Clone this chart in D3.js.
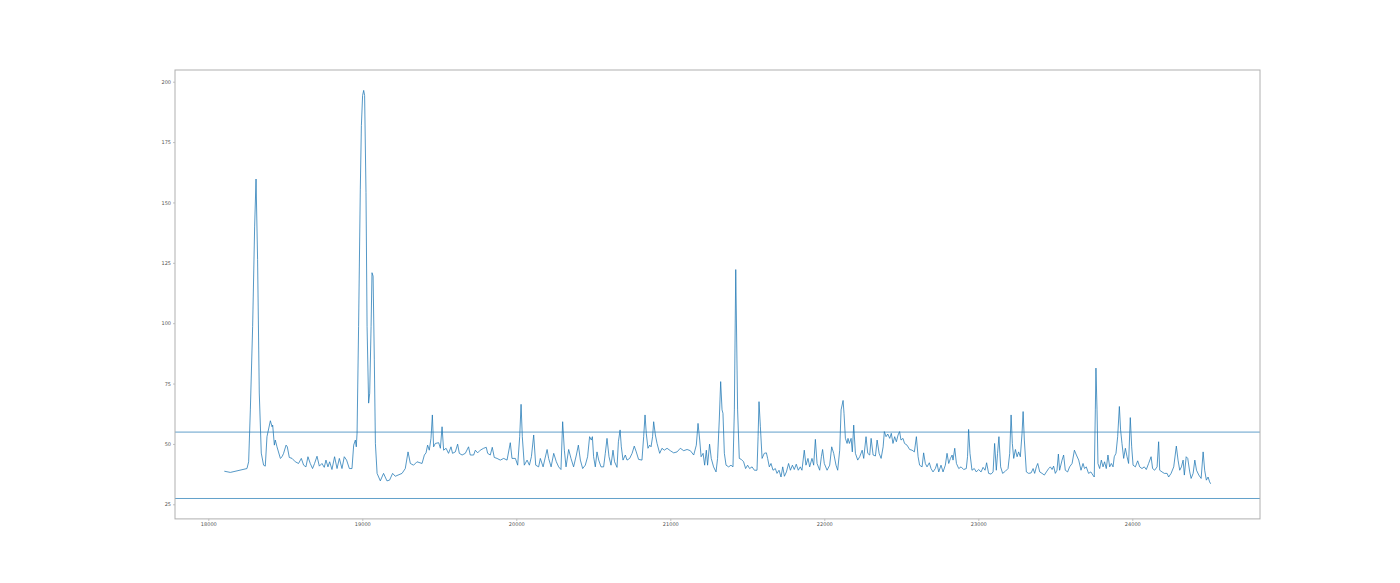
<!DOCTYPE html>
<html>
<head>
<meta charset="utf-8">
<script src="https://cdn.jsdelivr.net/npm/d3@7"></script>
<style>
html,body{margin:0;padding:0;background:#fff;}
svg{display:block;}
</style>
</head>
<body>
<svg id="chart" width="1400" height="583"></svg>
<script>
// ---- data ----
const xValues = [
18104,18143,18251,18262,18273,18288,18301,18310,18320,18331,18344,18359,18370,18381,18403,18414,18418,18429,18435,18446,
18468,18479,18489,18505,18513,18526,18544,18565,18586,18604,18619,18634,18647,18662,18677,18690,18706,18721,18738,18753,
18764,18777,18788,18803,18820,18836,18851,18868,18883,18898,18916,18933,18944,18955,18961,18966,18976,18987,18994,19002,
19009,19015,19024,19031,19041,19048,19057,19063,19070,19078,19085,19096,19117,19138,19160,19177,19197,19214,19258,19279,
19297,19312,19333,19355,19388,19403,19414,19424,19435,19446,19455,19463,19474,19496,19507,19518,19528,19544,19560,19576,
19586,19604,19619,19630,19648,19669,19690,19701,19723,
19734,19749,19766,19788,19805,19814,19831,19844,19857,19875,19896,19918,19940,19961,19972,19994,20009,20022,20031,20039,
20052,20070,20085,20098,20113,20126,20145,20156,20174,20184,20200,20210,20226,20243,20260,20275,20290,20301,20312,20323,
20340,20355,20372,20390,20403,20416,20431,20448,20463,20476,20487,20494,20502,20513,20524,20535,20550,20567,20578,20589,
20602,20615,20628,20638,20654,20663,20674,20682,20693,20708,20719,20736,20752,20766,20779,20794,20816,20827,20836,20844,
20855,20866,20875,20885,20892,20903,20914,20931,20946,20961,20979,21000,21022,21044,21065,21087,21109,21130,21152,21169,
21180,21191,21200,21213,21223,21234,21242,21255,21266,21281,21297,21307,21318,21327,21336,21342,21351,21362,21379,21394,
21407,21416,21425,21437,21448,21461,21476,21489,21502,21515,21531,21546,21563,21570,21576,21585,21596,21610,21624,21632,
21643,21654,21667,21682,21693,21706,21719,21730,21741,21754,21768,21780,21793,21805,21818,21831,21844,21855,21870,21881,
21894,21905,21920,21931,21942,21953,21970,21981,21989,22000,22018,22035,22048,22061,22076,22087,22100,22109,22122,22128,
22137,22148,22154,22163,22174,22182,22191,22202,22217,22230,22246,22256,22271,22282,22295,22304,22317,22332,22343,22356,
22369,22382,22390,22401,22412,22425,22435,22446,22457,22468,22479,22489,22498,22511,22521,22537,22554,22570,22585,22598,
22609,22619,22635,22645,22656,22667,22682,22693,22706,22721,22732,22743,22758,22771,22786,22797,22808,22819,22830,22836,
22847,22858,22873,
22888,22905,22922,22930,22937,22946,22959,22974,22987,23002,23018,23031,23044,23054,23067,23083,23096,23106,23117,23125,
23134,23145,23158,23176,23193,23204,23213,23221,23230,23241,23252,23262,23273,23284,23291,23299,23312,23327,23343,23356,
23366,23377,23386,23399,23414,23429,23442,23457,23468,23479,23489,23500,23511,23520,23528,23544,23554,23565,23580,23593,
23609,23624,23637,23652,23667,23680,23690,23701,23716,23731,23744,23753,23760,23764,23771,23777,23788,23799,23810,23820,
23831,23842,23853,23864,23875,23883,23894,23905,23916,23924,23933,23944,23955,23966,23976,23987,23996,24005,24020,24035,
24048,24063,24078,24091,24106,24122,24132,24145,24161,24171,24178,24193,24208,24226,24236,24252,24269,24286,24297,24308,
24319,24330,24338,24350,24360,24373,24382,24395,24406,24417,24432,24447,24460,24470,24481,24492,24502,24509
];
const yValues = [
38.7,38.2,39.8,42.6,64.1,98.7,140.2,159.7,126.4,71.1,46.2,41.2,40.8,53.0,59.6,57.1,57.8,49.5,51.6,48.8,
44.0,44.7,46.1,49.5,48.8,44.4,44.0,42.6,41.9,44.0,41.2,40.5,44.7,41.9,39.8,41.9,44.9,40.8,41.9,40.3,
43.3,40.5,42.6,39.4,44.7,39.8,44.0,39.8,44.7,43.3,39.8,39.8,49.5,51.6,48.8,54.5,98.7,155.5,181.8,194.3,
196.4,194.3,154.1,98.7,66.9,71.0,98.7,120.9,119.5,84.8,50.2,37.8,34.7,37.8,34.7,35.0,37.8,36.6,37.8,39.8,
46.7,41.9,41.2,42.6,41.9,45.4,46.3,49.5,47.4,52.3,62.0,48.8,50.2,50.5,48.2,57.1,47.4,48.2,46.1,48.8,
46.1,46.7,49.9,46.1,45.4,46.1,48.8,45.4,45.4,
47.4,46.3,47.4,48.2,48.6,46.1,45.4,48.6,44.4,44.0,43.3,44.0,43.3,50.5,44.0,44.0,41.2,53.0,66.4,53.0,
41.2,43.3,41.2,44.7,53.7,41.2,40.5,44.0,40.5,43.3,47.7,44.0,40.5,46.1,42.6,40.5,39.4,59.2,47.4,40.5,
47.7,44.0,40.5,45.4,49.5,43.3,39.8,41.2,44.7,53.0,51.6,53.0,44.7,40.5,46.7,43.3,40.5,40.5,46.1,52.3,
44.7,41.2,47.4,42.6,40.3,50.9,55.8,48.8,43.3,45.4,43.3,44.0,46.1,49.1,46.7,43.6,43.3,53.0,62.0,54.4,
48.2,49.5,48.8,53.0,59.2,53.7,50.2,46.1,48.2,47.4,48.2,47.2,46.3,46.7,48.2,47.2,47.7,47.2,45.4,49.5,
58.5,51.6,44.7,46.1,41.2,47.4,41.2,49.9,44.0,40.5,38.4,44.0,59.9,75.8,64.1,62.7,46.1,41.2,40.5,41.2,
40.5,64.1,122.2,64.1,44.0,43.6,42.6,39.8,41.2,39.8,40.5,39.1,39.1,53.0,67.5,57.1,44.0,46.1,46.3,44.0,
40.5,41.9,39.1,39.8,37.8,39.1,36.3,40.5,36.6,38.4,41.9,39.1,41.2,39.4,41.6,39.1,40.5,39.1,47.4,41.2,
44.0,40.5,44.0,41.2,51.9,41.9,39.1,44.7,47.7,41.9,39.1,41.2,48.8,46.1,41.2,39.1,47.4,64.1,68.0,62.7,
52.3,50.2,52.3,50.2,52.3,46.7,57.8,46.1,43.3,44.7,47.4,44.0,53.0,46.1,45.4,52.3,45.4,45.0,51.6,46.1,
44.0,48.8,55.1,53.0,54.1,52.3,54.4,50.2,53.0,50.9,53.7,55.1,51.6,52.3,50.2,49.5,47.7,47.4,46.7,53.0,
44.7,41.2,40.5,46.3,41.9,40.5,42.2,39.8,38.4,39.8,41.9,38.4,41.2,38.4,41.2,46.1,41.9,44.0,45.4,43.3,
48.2,41.9,39.8,
40.5,39.4,39.8,44.7,56.0,46.1,39.1,39.8,38.4,39.4,38.4,40.3,39.1,42.2,37.8,37.5,38.4,50.2,39.1,46.1,
53.0,40.5,37.8,38.7,39.8,46.1,62.0,50.2,44.0,47.7,44.7,46.7,44.7,54.4,63.4,51.6,38.4,37.8,38.0,39.8,
37.8,40.5,41.9,38.4,37.8,37.1,38.4,39.8,40.5,39.4,40.8,37.8,39.1,45.8,39.1,43.3,45.4,39.1,38.4,40.5,
41.9,47.4,45.4,43.3,39.1,41.9,39.8,40.5,37.8,38.4,37.1,36.3,64.1,81.4,64.1,41.9,39.8,43.3,40.5,42.6,
39.8,45.4,40.5,41.9,40.5,44.7,46.1,53.0,65.5,55.8,50.2,44.0,48.2,44.7,41.9,60.9,48.8,41.2,40.5,43.0,
40.5,39.8,40.5,39.4,41.9,44.7,39.8,39.1,40.5,50.9,39.1,38.4,37.8,37.8,36.3,37.8,40.5,49.1,43.3,39.1,
40.5,43.3,37.1,44.7,44.0,38.4,35.7,37.8,43.3,39.1,37.1,35.7,46.7,39.1,35.0,36.3,34.3,33.5
];
const thresholdValues = [54.9, 27.4];
const xTickValues = [18000, 19000, 20000, 21000, 22000, 23000, 24000];
const yTickValues = [25, 50, 75, 100, 125, 150, 175, 200];

// ---- layout ----
const W = 1400, H = 583;
const margin = {left: 175, right: 140, top: 70, bottom: 64.1};
const iw = W - margin.left - margin.right;
const ih = H - margin.top - margin.bottom;

const svg = d3.select("#chart");
const g = svg.append("g").attr("transform", `translate(${margin.left},${margin.top})`);

const xExt = d3.extent(xValues);
const xPad = (xExt[1] - xExt[0]) * 0.05;
const yMin = Math.min(d3.min(yValues), d3.min(thresholdValues));
const yMax = Math.max(d3.max(yValues), d3.max(thresholdValues));
const yPad = (yMax - yMin) * 0.05;

const x = d3.scaleLinear().domain([xExt[0] - xPad, xExt[1] + xPad]).range([0, iw]);
const y = d3.scaleLinear().domain([yMin - yPad, yMax + yPad]).range([ih, 0]);

const points = xValues.map((v, i) => [v, yValues[i]]);

// main series
g.append("path")
  .datum(points)
  .attr("fill", "none")
  .attr("stroke", "#1f77b4")
  .attr("stroke-width", 0.9)
  .attr("stroke-opacity", 0.85)
  .attr("stroke-linejoin", "round")
  .attr("d", d3.line().x(d => x(d[0])).y(d => y(d[1])));

// threshold lines
g.selectAll("line.thr")
  .data(thresholdValues)
  .join("line")
  .attr("class", "thr")
  .attr("x1", 0).attr("x2", iw)
  .attr("y1", d => y(d)).attr("y2", d => y(d))
  .attr("stroke", "#1f77b4")
  .attr("stroke-opacity", 0.7)
  .attr("stroke-width", 1);

// axes
const xAxis = g.append("g")
  .attr("transform", `translate(0,${ih})`)
  .call(d3.axisBottom(x).tickValues(xTickValues).tickSize(2).tickPadding(2).tickFormat(d3.format("d")));
const yAxis = g.append("g")
  .call(d3.axisLeft(y).tickValues(yTickValues).tickSize(2).tickPadding(2).tickFormat(d3.format("d")));

[xAxis, yAxis].forEach(a => {
  a.select(".domain").remove();
  a.selectAll("line").attr("stroke", "#999").attr("stroke-width", 0.6);
  a.selectAll("text")
    .attr("fill", "#555")
    .style("font-family", "DejaVu Sans, sans-serif")
    .style("font-size", "5px");
});

// frame (spines)
g.append("rect")
  .attr("x", 0).attr("y", 0)
  .attr("width", iw).attr("height", ih)
  .attr("fill", "none")
  .attr("stroke", "#b0b0b0")
  .attr("stroke-width", 1);
</script>
</body>
</html>
